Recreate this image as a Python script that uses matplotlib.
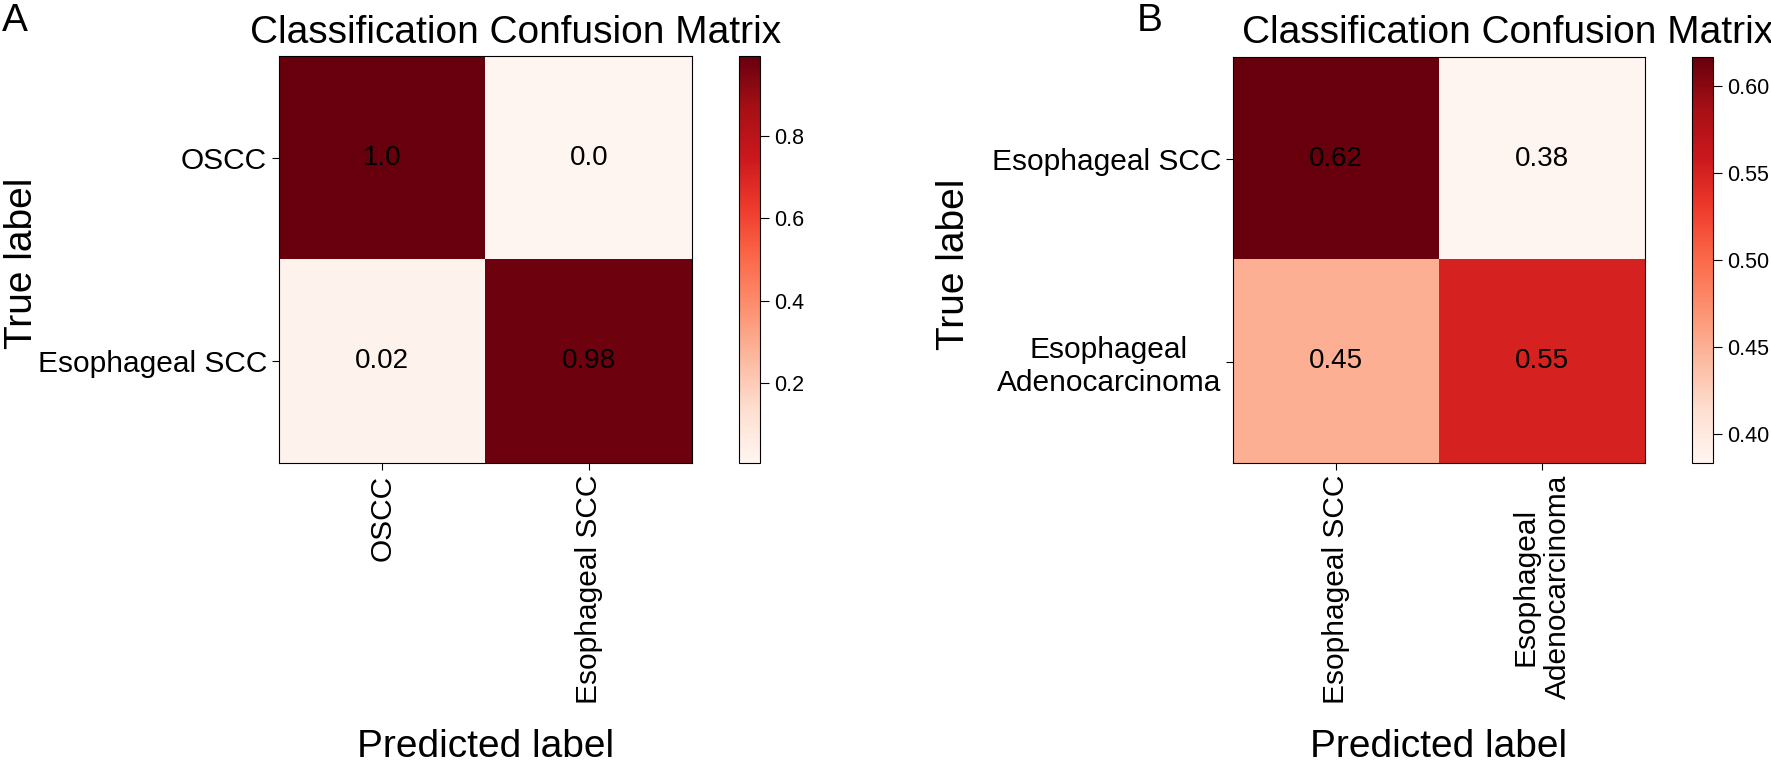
import numpy as np
import matplotlib
matplotlib.use('Agg')
import matplotlib.pyplot as plt

labels_a = ['OSCC', 'Esophageal SCC']
values_a = [[0.996, 0.004],
            [0.02, 0.98]]

labels_b = ['Esophageal SCC', 'Esophageal\nAdenocarcinoma']
values_b = [[0.617, 0.383],
            [0.45, 0.55]]

plt.rcParams['font.family'] = ['Liberation Sans', 'DejaVu Sans']

W, H = 1771, 764
fig = plt.figure(figsize=(W / 100, H / 100), dpi=100)


def px_box(x0, y0, x1, y1):
    # pixel box (top-left origin) -> figure fraction rect
    return [x0 / W, 1 - y1 / H, (x1 - x0) / W, (y1 - y0) / H]


def draw_panel(hm_box, cb_box, values, labels, letter, letter_x, title_x, ylab_x):
    ax = fig.add_axes(px_box(*hm_box))
    cax = fig.add_axes(px_box(*cb_box))
    m = np.array(values)
    im = ax.imshow(m, cmap='Reds', aspect='auto', interpolation='nearest')
    for i in range(m.shape[0]):
        for j in range(m.shape[1]):
            ax.text(j, i, str(round(m[i, j], 2)), ha='center', va='center',
                    fontsize=20, color='black')
    ax.set_xticks(range(len(labels)))
    ax.set_xticklabels(labels, rotation=90, fontsize=21.5, multialignment='center')
    ax.set_yticks(range(len(labels)))
    ax.set_yticklabels(labels, fontsize=21.5, multialignment='center')
    ax.tick_params(length=5)

    x0, y0, x1, y1 = hm_box
    ax.set_xlabel('Predicted label', fontsize=28)
    ax.xaxis.label.set_va('baseline')
    ax.xaxis.set_label_coords(0.5, (y1 - 757) / (y1 - y0))
    ax.set_ylabel('True label', fontsize=28)
    ax.yaxis.set_label_coords((ylab_x - x0) / (x1 - x0), 0.49)

    cb = fig.colorbar(im, cax=cax)
    cb.ax.tick_params(labelsize=15.5, length=6.5)

    fig.text(title_x / W, 1 - 43 / H, 'Classification Confusion Matrix',
             ha='center', va='baseline', fontsize=28)
    fig.text(letter_x / W, 1 - 3 / H, letter, ha='left', va='top', fontsize=28)


draw_panel((279, 56, 692, 463), (739, 56, 760, 463), values_a, labels_a,
           'A', 2, 516, 40)
draw_panel((1233, 57, 1645, 463), (1692, 57, 1713, 463), values_b, labels_b,
           'B', 1137, 1508, 972)

fig.savefig('out.png', dpi=100)
